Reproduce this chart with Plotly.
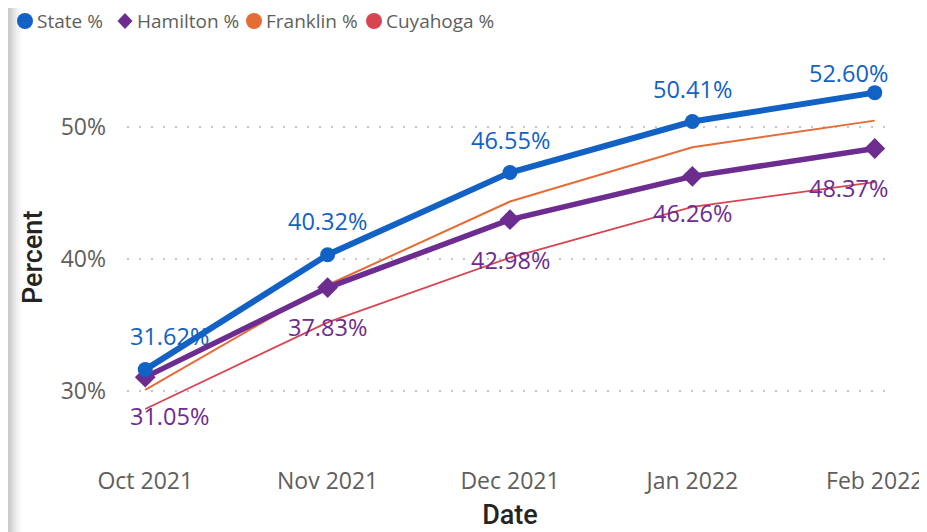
import plotly.graph_objects as go

months = ["Oct 2021", "Nov 2021", "Dec 2021", "Jan 2022", "Feb 2022"]
state = [31.62, 40.32, 46.55, 50.41, 52.60]
hamilton = [31.05, 37.83, 42.98, 46.26, 48.37]
franklin = [30.08, 38.03, 44.35, 48.46, 50.48]
cuyahoga = [28.64, 35.20, 40.10, 43.95, 45.82]
y_ticks = [30, 40, 50]
y_tick_text = ["30%", "40%", "50%"]
series_names = ["State %", "Hamilton %", "Franklin %", "Cuyahoga %"]

BLUE = "#1261C4"
PURPLE = "#6D2C90"
ORANGE = "#E66C37"
RED = "#D64550"
GRAY = "#605E5C"
DARK = "#252423"

# figure geometry (page body has an 8px margin)
FIG_W, FIG_H = 919, 524
ML, MR, MT, MB = 119, 34, 42, 82
PW = FIG_W - ML - MR
PH = FIG_H - MT - MB


def px2paper_x(px):
    return (px - ML) / PW


def px2paper_y(py):
    return (FIG_H - MB - py) / PH


fig = go.Figure()

fig.add_trace(go.Scatter(x=months, y=cuyahoga, mode="lines", line=dict(color=RED, width=1.8),
                         showlegend=False, hoverinfo="skip", name=series_names[3]))
fig.add_trace(go.Scatter(x=months, y=franklin, mode="lines", line=dict(color=ORANGE, width=2),
                         showlegend=False, hoverinfo="skip", name=series_names[2]))
fig.add_trace(go.Scatter(x=months, y=hamilton, mode="lines+markers", line=dict(color=PURPLE, width=5.5),
                         marker=dict(symbol="diamond", size=16, color=PURPLE),
                         showlegend=False, hoverinfo="skip", name=series_names[1]))
fig.add_trace(go.Scatter(x=months, y=state, mode="lines+markers", line=dict(color=BLUE, width=6),
                         marker=dict(symbol="circle", size=15, color=BLUE),
                         showlegend=False, hoverinfo="skip", name=series_names[0]))

# data labels
state_dx = [24, 0, 0, 0, -26]
state_dy = [34, 34, 33, 33, 20]
ham_dx = [24, 0, 0, 0, -26]
ham_dy = [-39, -39, -40, -37, -40]
LABEL_FONT = dict(family="Open Sans", size=23.5)
for i, m in enumerate(months):
    fig.add_annotation(x=m, y=state[i], text=f"{state[i]:.2f}%", showarrow=False,
                       xshift=state_dx[i], yshift=state_dy[i],
                       font=dict(LABEL_FONT, color=BLUE))
    fig.add_annotation(x=m, y=hamilton[i], text=f"{hamilton[i]:.2f}%", showarrow=False,
                       xshift=ham_dx[i], yshift=ham_dy[i],
                       font=dict(LABEL_FONT, color=PURPLE))

# manual legend (markers + text)
leg_marker_px = [17, 117, 246, 366]
leg_text_px = [28, 128, 257, 377]
leg_symbols = ["circle", "diamond", "circle", "circle"]
leg_colors = [BLUE, PURPLE, ORANGE, RED]
leg_y = px2paper_y(13)
for name, mx, tx, sym, col in zip(series_names, leg_marker_px, leg_text_px, leg_symbols, leg_colors):
    if sym == "circle":
        fig.add_shape(type="circle", xref="paper", yref="paper", xsizemode="pixel", ysizemode="pixel",
                      xanchor=px2paper_x(mx), yanchor=leg_y, x0=-8, x1=8, y0=-8, y1=8,
                      fillcolor=col, line=dict(width=0))
    else:
        fig.add_shape(type="path", xref="paper", yref="paper", xsizemode="pixel", ysizemode="pixel",
                      xanchor=px2paper_x(mx), yanchor=leg_y,
                      path="M 0,8 L 7.5,0 L 0,-8 L -7.5,0 Z",
                      fillcolor=col, line=dict(width=0))
    fig.add_annotation(xref="paper", yref="paper", x=px2paper_x(tx), y=leg_y, text=name,
                       showarrow=False, xanchor="left", yanchor="middle", borderpad=0,
                       font=dict(family="Open Sans", size=19, color=GRAY))

# y axis title as annotation (placed slightly below the plot centre as in the reference)
fig.add_annotation(xref="paper", yref="paper", x=px2paper_x(25), y=px2paper_y(250),
                   text="Percent", textangle=-90, showarrow=False,
                   xanchor="center", yanchor="middle",
                   font=dict(family="Roboto", size=27, color=DARK, weight=500))

# left-edge gray gradient
grays = ["#cbcbcb", "#d3d3d3", "#dedede", "#e8e8e8", "#f0f0f0", "#f6f6f6", "#fbfbfb"]
for k, g in enumerate(grays):
    x0 = k * 2
    fig.add_shape(type="rect", xref="paper", yref="paper",
                  x0=px2paper_x(x0), x1=px2paper_x(x0 + 2), y0=-0.3, y1=1.2,
                  fillcolor=g, line=dict(width=0), layer="below")

fig.update_layout(
    width=FIG_W, height=FIG_H,
    margin=dict(l=ML, r=MR, t=MT, b=MB, autoexpand=False),
    paper_bgcolor="white", plot_bgcolor="white",
    font=dict(family="Open Sans", color=GRAY),
    showlegend=False,
    xaxis=dict(
        type="category", range=[-0.1, 4.1], showgrid=False, zeroline=False, showline=False,
        tickfont=dict(family="Open Sans", size=23, color=GRAY),
        ticks="", ticklabelstandoff=15,
        title=dict(text="Date", font=dict(family="Roboto", size=27, color=DARK, weight=500),
                   standoff=10),
    ),
    yaxis=dict(
        range=[25.53, 55.83], tickvals=y_ticks, ticktext=y_tick_text,
        showgrid=True, gridcolor="#C8C6C4", gridwidth=1.5, griddash="2px,10px",
        zeroline=False, showline=False, ticks="",
        tickfont=dict(family="Open Sans", size=23, color=GRAY),
        ticklabelstandoff=20,
    ),
)

fig.write_html("out.html")
